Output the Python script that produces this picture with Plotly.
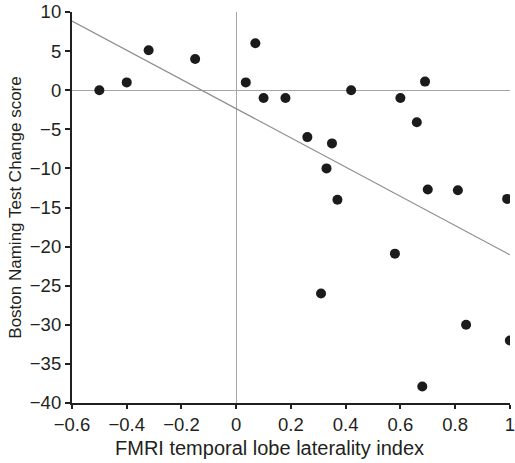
import plotly.graph_objects as go

# Data
lat_index = [-0.50, -0.40, -0.32, -0.15, 0.035, 0.07, 0.10, 0.18, 0.42, 0.60,
             0.69, 0.66, 0.26, 0.35, 0.33, 0.37, 0.70, 0.81, 0.99, 0.58,
             0.31, 0.84, 1.00, 0.68]
bnt_change = [0.0, 1.0, 5.1, 4.0, 1.0, 6.0, -1.0, -1.0, 0.0, -1.0,
              1.1, -4.1, -6.0, -6.8, -10.0, -14.0, -12.7, -12.8, -13.9, -20.9,
              -26.0, -30.0, -32.0, -37.9]
fit_x = [-0.6, 1.0]
fit_y = [8.85, -21.05]

x_ticks = [-0.6, -0.4, -0.2, 0, 0.2, 0.4, 0.6, 0.8, 1]
x_tick_text = ["\u22120.6", "\u22120.4", "\u22120.2", "0", "0.2", "0.4", "0.6", "0.8", "1"]
y_ticks = [10, 5, 0, -5, -10, -15, -20, -25, -30, -35, -40]
y_tick_text = ["10", "5", "0", "\u22125", "\u221210", "\u221215", "\u221220", "\u221225",
               "\u221230", "\u221235", "\u221240"]
x_title = "FMRI temporal lobe laterality index"
y_title = "Boston Naming Test Change score"

FONT = "Liberation Sans, Arial, sans-serif"
INK = "#231f20"

fig = go.Figure()
fig.add_trace(go.Scatter(x=fit_x, y=fit_y, mode="lines",
                         line=dict(color="#8c8c8c", width=1.2),
                         showlegend=False, hoverinfo="skip"))
fig.add_trace(go.Scatter(x=lat_index, y=bnt_change, mode="markers",
                         marker=dict(color="#1c1a1a", size=10, line=dict(width=0)),
                         showlegend=False))

fig.update_layout(
    width=515, height=463,
    margin=dict(l=72, r=5, t=12, b=60),
    paper_bgcolor="white", plot_bgcolor="white",
    font=dict(family=FONT, size=18, color=INK),
    xaxis=dict(range=[-0.6, 1.0005], tickvals=x_ticks, ticktext=x_tick_text,
               showgrid=False, zeroline=True, zerolinecolor="#a6a6a6", zerolinewidth=1.2,
               showline=True, linecolor=INK, linewidth=2.2,
               ticks="outside", ticklen=4, tickwidth=2, tickcolor=INK,
               ticklabeloverflow="allow", automargin=False,
               tickfont=dict(size=18.5)),
    yaxis=dict(range=[-40, 10], tickvals=y_ticks, ticktext=y_tick_text,
               showgrid=False, zeroline=True, zerolinecolor="#a6a6a6", zerolinewidth=1.2,
               showline=True, linecolor=INK, linewidth=2.2,
               ticks="outside", ticklen=5, tickwidth=2, tickcolor=INK,
               ticklabeloverflow="allow", automargin=False,
               title=dict(text=y_title, standoff=4, font=dict(size=17)),
               tickfont=dict(size=18.5)),
    annotations=[dict(text=x_title, xref="paper", yref="paper",
                      x=0.452, y=-0.115, xanchor="center", yanchor="middle",
                      showarrow=False, font=dict(size=20, color=INK))],
)

fig.write_html("out.html")
